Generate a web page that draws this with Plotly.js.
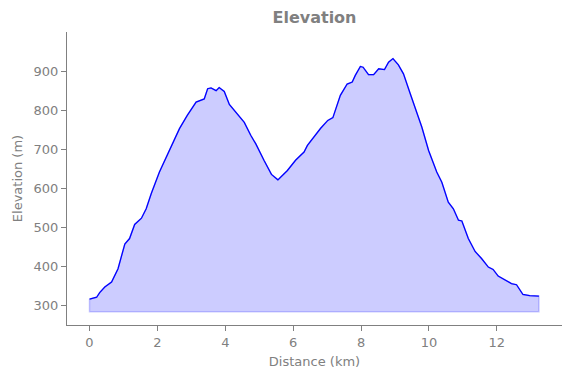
<!DOCTYPE html>
<html>
<head>
<meta charset="utf-8">
<script src="https://cdn.plot.ly/plotly-3.0.1.min.js"></script>
<style>html,body{margin:0;padding:0;background:#fff;}#chart{width:571px;height:378px;}</style>
</head>
<body>
<div id="chart"></div>
<script>
const distanceKm = [0.00,0.21,0.30,0.45,0.65,0.84,1.04,1.18,1.33,1.53,1.67,1.82,2.06,2.31,2.65,2.88,3.14,3.38,3.48,3.58,3.73,3.82,3.97,4.12,4.36,4.56,4.75,4.90,5.14,5.36,5.55,5.83,6.07,6.32,6.42,6.61,6.81,7.02,7.17,7.39,7.59,7.74,7.83,7.98,8.06,8.22,8.37,8.52,8.69,8.81,8.94,9.10,9.25,9.45,9.60,9.79,9.99,10.23,10.38,10.57,10.72,10.87,10.97,11.16,11.36,11.55,11.75,11.89,12.04,12.24,12.43,12.58,12.77,12.97,13.24];
const elevationM = [317,322,334,348,361,395,458,472,508,524,548,587,642,689,753,787,821,829,855,857,850,858,848,815,791,769,736,714,672,636,622,646,672,693,710,731,754,774,781,838,867,872,889,912,910,891,891,906,904,923,932,916,893,842,804,757,697,642,616,565,548,519,517,472,439,421,399,393,376,367,357,354,329,326,325];
const baseline = 285;

const polyX = distanceKm.concat([distanceKm[distanceKm.length-1], distanceKm[0], distanceKm[0]]);
const polyY = elevationM.concat([baseline, baseline, elevationM[0]]);

const grey = '#808080';
const traces = [
  {x: polyX, y: polyY, mode: 'lines', fill: 'toself', fillcolor: 'rgba(0,0,255,0.2)',
   line: {color: 'rgba(0,0,255,0.2)', width: 1.5}, hoverinfo: 'skip', showlegend: false},
  {x: distanceKm, y: elevationM, mode: 'lines', line: {color: '#0000ff', width: 1.3}, showlegend: false}
];
const layout = {
  width: 571, height: 378,
  margin: {l: 67, r: 9, t: 32, b: 53},
  paper_bgcolor: '#fff', plot_bgcolor: '#fff',
  font: {family: 'DejaVu Sans', color: grey, size: 13},
  title: {text: '<b>Elevation</b>', font: {size: 16, color: grey}, x: 0.5, xref: 'paper', xanchor: 'center', y: 0.969, yanchor: 'top'},
  xaxis: {range: [-0.663, 13.92], tickvals: [0,2,4,6,8,10,12], showgrid: false, zeroline: false,
    showline: true, linecolor: grey, linewidth: 1, ticks: 'outside', ticklen: 5, tickcolor: grey,
    title: {text: 'Distance (km)', font: {size: 13, color: grey}, standoff: 8}},
  yaxis: {range: [251, 1000], tickvals: [300,400,500,600,700,800,900], showgrid: false, zeroline: false,
    showline: true, linecolor: grey, linewidth: 1, ticks: 'outside', ticklen: 5, tickcolor: grey,
    title: {text: 'Elevation (m)', font: {size: 13, color: grey}, standoff: 8}}
};
Plotly.newPlot('chart', traces, layout, {displayModeBar: false, staticPlot: true});
</script>
</body>
</html>
